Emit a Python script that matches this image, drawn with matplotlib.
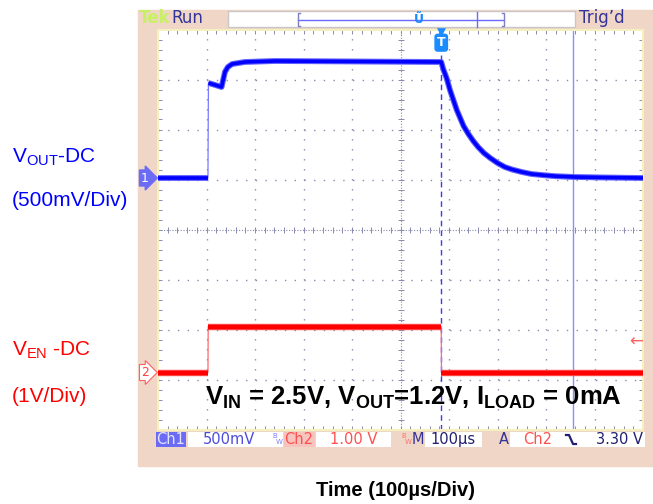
import matplotlib.pyplot as plt
import numpy as np
from matplotlib.patches import Rectangle

plt.rcParams['font.family'] = ['Liberation Sans', 'DejaVu Sans']
plt.rcParams['mathtext.fontset'] = 'custom'
plt.rcParams['mathtext.rm'] = 'Liberation Sans'
plt.rcParams['mathtext.bf'] = 'Liberation Sans:bold'

# Ch1 = VOUT (V), Ch2 = VEN (V), time in us
t1 = [0, 103, 104, 118, 131, 138, 144, 153, 179, 241, 584, 588, 595, 602, 609, 616, 623, 630, 640,
      650, 660, 672, 685, 700, 715, 730, 750, 770, 795, 820, 860, 920, 1000]
v1 = [0, 0, 0.95, 0.93, 0.91, 1.06, 1.11, 1.14, 1.16, 1.17, 1.16, 1.09, 1.00, 0.88, 0.78, 0.68, 0.60, 0.52, 0.44,
      0.37, 0.31, 0.25, 0.20, 0.15, 0.11, 0.085, 0.06, 0.04, 0.028, 0.018, 0.01, 0.005, 0.0]
t2 = [0, 103, 103.5, 584, 584.5, 1000]
v2 = [0, 0, 0.92, 0.92, 0, 0]

ch1_scale, ch2_scale = 0.5, 1.0      # V/div
ch1_pos, ch2_pos = 1.03, -2.86       # div
trig_t = 584
cursor_t = 856
trig_level = -2.25

W, H = 653, 504
fx = lambda p: p / W
fy = lambda p: 1 - p / H

fig = plt.figure(figsize=(6.53, 5.04), dpi=100)
peach = '#f0d6c6'
fig.add_artist(Rectangle((fx(138), fy(466)), fx(653) - fx(138), fy(10) - fy(466),
                         transform=fig.transFigure, color=peach, zorder=0))

ax = fig.add_axes([fx(158), fy(429.5), (643 - 158) / W, 400 / H])
ax.set_xlim(0, 1000)
ax.set_ylim(-4, 4)
gc = '#8a8ab0'
for x in range(100, 1000, 100):
    if x != 500:
        ax.axvline(x, color=gc, lw=1, ls=(0, (1, 6.2)), zorder=1)
for y in range(-3, 4):
    if y != 0:
        ax.axhline(y, color=gc, lw=1, ls=(0, (1, 6)), zorder=1)
ax.axvline(500, color=gc, lw=0.8, ls=(0, (1, 1.5)), zorder=1)
ax.axhline(0, color=gc, lw=0.8, ls=(0, (1, 1.5)), zorder=1)
ax.plot(np.arange(0, 1001, 20), np.zeros(51), ls='none', marker='|', ms=5, mew=0.7, color=gc, zorder=1)
ax.plot(np.full(41, 500), np.arange(-4, 4.01, 0.2), ls='none', marker='_', ms=5, mew=0.7, color=gc, zorder=1)
ax.set_xticks(np.arange(0, 1001, 20))
ax.set_yticks(np.arange(-4, 4.01, 0.2))
ax.tick_params(direction='in', length=3, width=0.7, color=gc, top=True, right=True,
               labelbottom=False, labelleft=False)
for s in ax.spines.values():
    s.set_color('#f4f0c0')
    s.set_linewidth(1.5)

# cursor and trigger lines
ax.axvline(cursor_t, color='#8c8cff', lw=1, zorder=2)
ax.plot([cursor_t - 15, cursor_t + 15], [ch1_pos, ch1_pos], color='#8c8cff', lw=1, zorder=2)
ax.axvline(trig_t, color='#3a3aff', lw=1, ls=(0, (4, 3)), zorder=2)

# traces
y1 = ch1_pos + np.array(v1) / ch1_scale
y2 = ch2_pos + np.array(v2) / ch2_scale
ax.plot(t1, y1, color='#7a7aff', lw=0.9, zorder=3)
ax.plot(t2, y2, color='#ff6a6a', lw=0.9, zorder=3)
b1 = np.insert(y1, 2, np.nan)
bt1 = np.insert(np.array(t1, float), 2, np.nan)
ax.plot(bt1, b1, color='#6060ff', lw=4.2, solid_capstyle='butt', zorder=4)
ax.plot(bt1, b1, color='#0000ff', lw=2.6, solid_capstyle='butt', zorder=4)
b2 = np.insert(np.array(y2, float), [2, 4], np.nan)
bt2 = np.insert(np.array(t2, float), [2, 4], np.nan)
ax.plot(bt2, b2, color='#ff4848', lw=4.6, solid_capstyle='butt', zorder=4)
ax.plot(bt2, b2, color='#ff0000', lw=3, solid_capstyle='butt', zorder=4)

# channel markers
yt = ax.get_yaxis_transform()
ax.text(-0.027, ch1_pos, '1', transform=yt, ha='center', va='center', color='white',
        fontsize=9, family='DejaVu Sans', clip_on=False,
        bbox=dict(boxstyle='rarrow,pad=0.12', fc='#6b6bf5', ec='#6b6bf5'))
ax.text(-0.027, ch2_pos, '2', transform=yt, ha='center', va='center', color='#ff4040',
        fontsize=9, family='DejaVu Sans', clip_on=False,
        bbox=dict(boxstyle='rarrow,pad=0.12', fc='white', ec='#ff6060', lw=0.8))
ax.text(0.985, trig_level, '\u2190', transform=yt, ha='center', va='center', color='#ff6060',
        fontsize=12, family='DejaVu Sans')
# trigger marker
xt = ax.get_xaxis_transform()
ax.plot([trig_t], [1.0], transform=xt, marker='v', ms=7, color='#1a8cff', clip_on=False, zorder=5)
ax.text(trig_t, 0.967, 'T', transform=xt, ha='center', va='center', color='white', fontsize=9,
        fontweight='bold', family='DejaVu Sans',
        bbox=dict(boxstyle='round,pad=0.15,rounding_size=0.2', fc='#1a8cff', ec='#1a8cff'))

# top bar
dk = '#333399'
fig.text(fx(139), fy(18), 'Tek', color='#c8f064', fontsize=12, fontweight='bold', va='center', family='DejaVu Sans')
fig.text(fx(171), fy(18), 'Run', color=dk, fontsize=12, va='center', family='DejaVu Sans')
fig.add_artist(Rectangle((fx(228), fy(27)), fx(575) - fx(228), fy(11) - fy(27), transform=fig.transFigure,
                         fc='white', ec='#c8c8c8', lw=1))
lc = '#6a6aff'
fig.add_artist(plt.Line2D([fx(298), fx(504)], [fy(19.5), fy(19.5)], transform=fig.transFigure, color=lc, lw=1))
for xb, d in ((298, 2), (504, -2)):
    fig.add_artist(plt.Line2D([fx(xb + d), fx(xb), fx(xb), fx(xb + d)], [fy(13), fy(13), fy(26), fy(26)],
                              transform=fig.transFigure, color='#8080c0', lw=1))
fig.add_artist(plt.Line2D([fx(477), fx(477)], [fy(12), fy(27)], transform=fig.transFigure, color=lc, lw=1))
fig.text(fx(419), fy(19.5), '\u0168', color='#1a8cff', fontsize=9, fontweight='bold', ha='center', va='center',
         family='DejaVu Sans')
fig.text(fx(579), fy(18), "Trig\u2019d", color=dk, fontsize=12, va='center', family='DejaVu Sans')

# bottom bar
yb = fy(439.5)
def box(x0, x1, fc):
    fig.add_artist(Rectangle((fx(x0), fy(447)), fx(x1) - fx(x0), fy(432) - fy(447),
                             transform=fig.transFigure, fc=fc, ec='none'))
box(156, 186, '#6b6bf5')
box(188, 283, 'white')
box(284, 315, '#f6c4bc')
box(316, 391, 'white')
box(425, 482, 'white')
box(510, 645, 'white')
kw = dict(va='center', ha='center', fontsize=10.5, family='DejaVu Sans')
fig.text(fx(171), yb, 'Ch1', color='#e4e4ff', **kw)
fig.text(fx(229), yb, '500mV', color='#4c4cdc', **kw)
fig.text(fx(299), yb, 'Ch2', color='#ff5050', **kw)
fig.text(fx(354), yb, '1.00 V', color='#ff5050', **kw)
fig.text(fx(418), yb, 'M', color=dk, **kw)
fig.text(fx(453), yb, '100\u00b5s', color='#202070', **kw)
fig.text(fx(504), yb, 'A', color=dk, **kw)
fig.text(fx(538), yb, 'Ch2', color='#ff5050', **kw)
fig.text(fx(620), yb, '3.30 V', color='#202070', **kw)
sk = dict(fontsize=5, family='DejaVu Sans', va='center', ha='center')
fig.text(fx(275), fy(436), 'B', color='#8080ff', **sk)
fig.text(fx(279), fy(442), 'W', color='#8080ff', **sk)
fig.text(fx(404), fy(436), 'B', color='#ff7070', **sk)
fig.text(fx(408), fy(442), 'W', color='#ff7070', **sk)
fig.add_artist(plt.Line2D([fx(566), fx(569), fx(573), fx(576)], [fy(435), fy(435), fy(444), fy(444)],
                          transform=fig.transFigure, color='#202070', lw=1.6))

# outside labels
fig.text(fx(12), fy(157), r'V$_\mathrm{OUT}$-DC', color='#0000ff', fontsize=15, va='center')
fig.text(fx(12), fy(201), '(500mV/Div)', color='#0000ff', fontsize=15, va='center')
fig.text(fx(12), fy(350), r'V$_\mathrm{EN}$ -DC', color='#ff0000', fontsize=15, va='center')
fig.text(fx(12), fy(396), '(1V/Div)', color='#ff0000', fontsize=15, va='center')
fig.text(fx(205), fy(405), r'$\mathbf{V_{IN}}$ = 2.5V, $\mathbf{V_{OUT}}$=1.2V, $\mathbf{I_{LOAD}}$ = 0mA',
         color='black', fontsize=18.5, fontweight='bold', va='baseline', ha='left', zorder=10)
fig.text(fx(395), fy(490), 'Time (100\u00b5s/Div)', color='black', fontsize=14.5, fontweight='bold',
         va='center', ha='center')

fig.savefig('out.png', dpi=100)
